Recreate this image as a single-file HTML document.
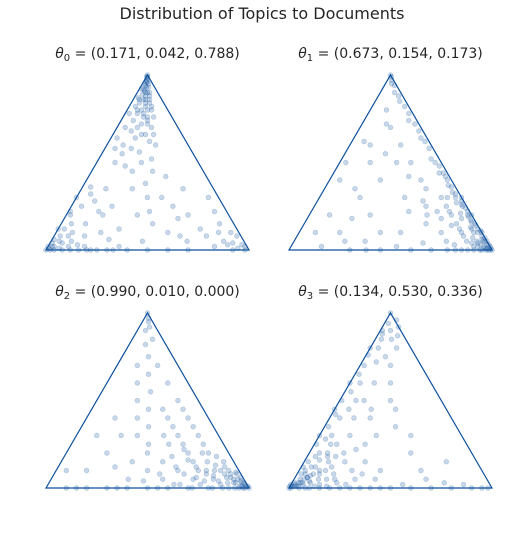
<!DOCTYPE html>
<html><head><meta charset="utf-8"><style>
html,body{margin:0;padding:0;background:#fff;}
svg{display:block;font-family:"DejaVu Sans","Liberation Sans",sans-serif;}
</style></head><body>
<svg id="chart" width="517" height="534" viewBox="0 0 517 534">
<text x="262" y="19" text-anchor="middle" font-size="16" fill="#262626">Distribution of Topics to Documents</text>
<g id="panels"></g>
</svg>
<script>
// panel titles (theta values)
const thetaLabels = ["(0.171, 0.042, 0.788)","(0.673, 0.154, 0.173)","(0.990, 0.010, 0.000)","(0.134, 0.530, 0.336)"];
// points as [weight-right-corner, weight-top-corner]; left weight = 1 - both
const points0 = [[0,1],[.01,.98],[.02,.96],[.01,.95],[.03,.93],[.02,.92],[.04,.9],[.05,.88],[.03,.89],[.06,.86],[.02,.87],[.07,.84],[.08,.82],[.04,.84],[.1,.8],[.05,.8],[.12,.76],[.09,.78],[.03,.82],[.14,.72],[.06,.74],[.1,.7],[.16,.66],[.04,.7],[.2,.62],[.12,.64],[.08,.6],[.18,.56],[.05,.58],[.22,.5],[.3,.45],[.15,.48],[.35,.3],[.4,.22],[.45,.15],[.3,.12],[.55,.1],[.6,.2],[.2,.25],[.25,.35],[.5,.35],[.45,.05],[.7,.12],[.75,.08],[.8,.1],[.85,.05],[.65,.3],[.38,.42],[0,.3],[.02,.2],[.05,.15],[.08,.1],[.03,.08],[.1,.05],[.12,.15],[.06,.04],[0,.12],[.02,.02],[.04,0],[.08,0],[.12,0],[.16,0],[.2,0],[.25,0],[.3,0],[0,0],[.01,.01],[.15,.08],[.18,.2],[.05,.25],[.22,.1],[.95,.03],[.9,.08],[.98,0],[.92,0],[.97,.02],[.6,0],[.7,0],[.4,0],[0,.99],[.01,.97],[.02,.94],[.03,.91],[.05,.9],[0,.02],[.02,0],[.01,.04],
[.005,.99],[.015,.96],[.03,.95],[.04,.93],[.06,.9],[.07,.88],[.01,.92],[.05,.86],[.08,.86],[.09,.84],[.11,.82],[.03,.86],[.07,.8],[.12,.8],[.1,.76],[.13,.74],[.06,.78],[.15,.76],[.02,.78],[.11,.72],[.17,.7],[.08,.68],[.14,.66],[.2,.66],[.24,.6],[.13,.58],[.03,.64],[.1,.55],[.26,.52],[.09,.5],[.2,.45],[.3,.38],[.42,.3],[.12,.35],[.04,.36],[.5,.25],[.56,.18],[.62,.08],[.67,.05],[.35,.2],[.28,.06],[.15,.22],[.1,.28],[.06,.32],[.01,.22],[.03,.12],[.07,.08],[.01,.06],[.04,.05],[.1,.02],[.14,.03],[.06,.01],[.03,.02],[.18,.02],[.22,0],[.33,0],[.5,0],[.35,.02],[.86,.1],[.88,.03],[.82,.02],[.94,.01],[.9,.04],[.78,.15],[.72,.22]];
const points1 = [[.98,.02],[.95,.05],[.92,.06],[.9,.1],[.88,.1],[.85,.14],[.82,.16],[.8,.2],[.78,.2],[.75,.24],[.72,.26],[.7,.3],[.66,.32],[.62,.36],[.58,.4],[.5,.48],[.4,.58],[.3,.68],[.2,.78],[.1,.88],[.05,.94],[0,1],[.02,.97],[.85,.05],[.8,.1],[.75,.15],[.7,.2],[.65,.25],[.6,.3],[.7,.1],[.6,.15],[.9,.02],[.95,0],[.85,0],[.8,.03],[.75,.05],[.55,.25],[.5,.35],[.45,.4],[.35,.5],[.25,.6],[.15,.7],[.08,.8],[.3,.2],[.4,.1],[.2,.3],[.35,.05],[.5,.1],[.25,.4],[.15,.5],[.1,.2],[.45,0],[.3,0],[.6,0],[.7,0],[.2,.1],[.05,.4],[.1,.6],[.99,0],[.97,.01],[.96,.03],[.93,.03],[.9,.05],[.88,.04],[.94,0],[1,0],[.98,0],[.96,.01],[.84,.12],[.76,.18],[.68,.22],
[.97,.03],[.94,.05],[.93,.07],[.91,.08],[.89,.11],[.87,.12],[.86,.1],[.84,.15],[.83,.13],[.81,.17],[.79,.19],[.77,.22],[.74,.21],[.73,.25],[.71,.28],[.69,.27],[.67,.3],[.64,.33],[.63,.3],[.6,.37],[.56,.42],[.54,.44],[.52,.44],[.47,.5],[.44,.52],[.36,.62],[.33,.64],[.26,.72],[.22,.74],[.16,.82],[.12,.85],[.07,.9],[.03,.95],[.01,.99],[.91,.04],[.92,.02],[.87,.07],[.82,.08],[.78,.12],[.73,.14],[.66,.18],[.62,.22],[.58,.2],[.52,.28],[.48,.22],[.42,.3],[.38,.42],[.28,.5],[.2,.55],[.12,.72],[.06,.62],[.03,.5],[.15,.35],[.22,.18],[.08,.1],[.15,.02],[.25,.05],[.38,0],[.52,.02],[.64,.04],[.78,0],[.82,0],[.88,0],[.91,0],[.95,.02],[.99,.01],[.97,0],[.93,.05]];
const points2 = [[1,0],[.97,.02],[.95,.03],[.92,.05],[.9,.08],[.88,.06],[.85,.1],[.82,.12],[.8,.15],[.78,.1],[.75,.18],[.7,.2],[.65,.25],[.6,.3],[.55,.35],[.5,.4],[.45,.45],[.4,.5],[.3,.6],[.2,.7],[.1,.85],[.05,.92],[0,1],[.03,.95],[.8,.05],[.75,.08],[.7,.1],[.65,.15],[.6,.2],[.55,.25],[.5,.3],[.45,.35],[.4,.4],[.35,.45],[.7,.05],[.6,.1],[.5,.15],[.4,.2],[.3,.3],[.25,.4],[.2,.5],[.15,.6],[.1,.7],[.35,.15],[.45,.1],[.55,.05],[.2,.2],[.1,.3],[.05,.1],[.1,0],[.2,0],[.3,0],[.4,0],[.5,0],[.6,0],[.7,0],[.8,0],[.9,0],[.85,.02],[.93,0],[.96,.01],[.98,0],[.75,.02],[.65,.02],[.99,.01],[.94,.04],[.91,.03],[.87,.08],
[.98,.01],[.96,.03],[.95,.01],[.93,.06],[.92,.03],[.9,.05],[.89,.09],[.88,.03],[.86,.06],[.84,.08],[.83,.04],[.81,.1],[.79,.07],[.77,.13],[.76,.04],[.74,.1],[.72,.15],[.71,.06],[.68,.12],[.67,.2],[.64,.08],[.62,.16],[.58,.12],[.57,.22],[.53,.18],[.52,.08],[.48,.25],[.46,.04],[.43,.3],[.38,.25],[.33,.35],[.28,.45],[.24,.55],[.18,.65],[.13,.75],[.08,.82],[.02,.97],[.04,.9],[.14,.4],[.22,.3],[.28,.12],[.15,.1],[.38,.05],[.62,.02],[.72,0],[.82,0],[.87,0],[.95,0],[.97,0],[.15,0],[.35,0],[.55,0]];
const points3 = [[0,0],[.01,.01],[.02,.02],[.03,.05],[.05,.03],[.04,.08],[.06,.06],[.08,.04],[.1,.1],[.07,.12],[.12,.05],[.02,.15],[.05,.2],[.1,.18],[.15,.12],[.18,.08],[.2,.15],[.08,.25],[0,.3],[.02,.35],[.05,.4],[0,.45],[.03,.55],[0,.6],[.02,.7],[0,.8],[.03,.85],[.01,.9],[.02,.94],[0,1],[.05,.9],[.08,.85],[.1,.75],[.15,.7],[.12,.6],[.1,0],[.15,0],[.2,0],[.25,0],[.3,0],[.35,0],[.4,0],[.5,0],[.6,0],[.7,0],[.8,0],[.9,0],[.95,0],[.98,0],[.22,.03],[.3,.05],[.25,.25],[.3,.15],[.4,.1],[.35,.35],[.45,.3],[.5,.2],[.6,.1],[.7,.15],[.3,.45],[.2,.4],[.15,.3],[.25,.5],[.4,.05],[.08,.5],[.12,.4],[.01,0],[0,.02],[.03,.01],[.04,.03],[.06,.06],[.02,.08],
[0,.01],[.01,.03],[.02,.01],[.03,.03],[.04,.01],[.05,.05],[.06,.02],[.07,.07],[.08,.08],[.09,.03],[.03,.1],[.01,.12],[.05,.12],[.11,.08],[.13,.1],[.07,.16],[.04,.18],[.12,.15],[.09,.2],[.16,.05],[.14,.18],[.01,.25],[.04,.28],[.11,.25],[.06,.3],[.02,.42],[.07,.45],[.01,.5],[.05,.6],[.02,.65],[.07,.72],[.01,.76],[.04,.8],[.05,.96],[.02,.88],[.08,.92],[.1,.87],[.13,.8],[.2,.6],[.12,.5],[.18,.45],[.22,.22],[.28,.3],[.17,.2],[.32,.08],[.26,.1],[.2,.05],[.14,.02],[.18,.01],[.27,.02],[.05,0],[.08,0],[.12,.01],[.45,0],[.55,.02],[.65,.05],[.75,.03],[.85,.02]];
const allPoints = [points0, points1, points2, points3];

const NS = "http://www.w3.org/2000/svg";
const g = document.getElementById("panels");
const panelOrigins = [[46,250],[289,250],[46,488],[289,488]];
const W = 203, H = 175;
const color = "#0b4f9c";

function xScale(ox, b, c){ return ox + b*W + c*(W/2); }
function yScale(oy, c){ return oy - c*H; }

allPoints.forEach((pts, i) => {
  const [ox, oy] = panelOrigins[i];
  const pg = document.createElementNS(NS, "g");
  
  
  g.appendChild(pg);

  const t = document.createElementNS(NS, "text");
  
  
  t.setAttribute("x", ox + W/2);
  t.setAttribute("y", oy - 192);
  t.setAttribute("text-anchor", "middle");
  t.setAttribute("font-size", "14");
  t.setAttribute("fill", "#262626");
  t.innerHTML = '<tspan font-style="italic">θ</tspan><tspan font-size="10" dy="3">' + i + '</tspan><tspan dy="-3"> = ' + thetaLabels[i] + '</tspan>';
  pg.appendChild(t);

  const tri = document.createElementNS(NS, "polygon");
  
  
  tri.setAttribute("points", `${xScale(ox,0,0)},${yScale(oy,0)} ${xScale(ox,1,0)},${yScale(oy,0)} ${xScale(ox,0,1)},${yScale(oy,1)}`);
  tri.setAttribute("fill", "none");
  tri.setAttribute("stroke", color);
  tri.setAttribute("stroke-width", "1.2");
  pg.appendChild(tri);

  pts.forEach(p => {
    const c = document.createElementNS(NS, "circle");
    
    
    c.setAttribute("cx", xScale(ox, p[0], p[1]));
    c.setAttribute("cy", yScale(oy, p[1]));
    c.setAttribute("r", "2.4");
    c.setAttribute("fill", color);
    c.setAttribute("fill-opacity", "0.22");
    c.setAttribute("stroke", color);
    c.setAttribute("stroke-opacity", "0.25");
    c.setAttribute("stroke-width", "0.6");
    pg.appendChild(c);
  });
});
</script>
</body></html>
